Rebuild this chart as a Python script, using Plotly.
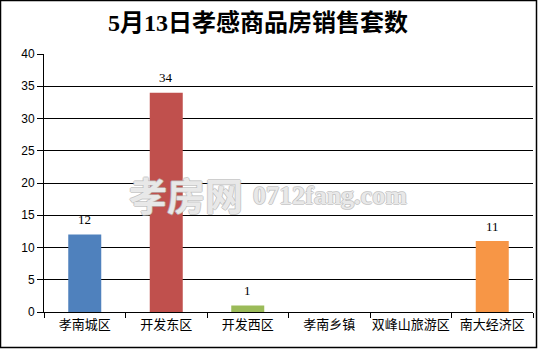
import plotly.graph_objects as go

categories = ["孝南城区", "开发东区", "开发西区", "孝南乡镇", "双峰山旅游区", "南大经济区"]
values = [12, 34, 1, 0, 0, 11]
bar_colors = ["#4F81BD", "#C0504D", "#9BBB59", "#8064A2", "#4BACC6", "#F79646"]
y_ticks = [0, 5, 10, 15, 20, 25, 30, 35, 40]
title_text = "5月13日孝感商品房销售套数"
watermark_cn = "孝房网"
watermark_en = "0712fang.com"

fig = go.Figure()
fig.add_trace(go.Bar(
    x=categories, y=values,
    marker=dict(color=bar_colors, line=dict(width=0)),
    width=0.405,
    showlegend=False,
    hoverinfo="skip",
))

annotations = []
for c, v in zip(categories, values):
    if v > 0:
        annotations.append(dict(
            x=c, y=v, xref="x", yref="y", text=str(v), showarrow=False,
            yshift=15, font=dict(family="Liberation Serif, Noto Sans CJK SC", size=13, color="#000"),
        ))

shadow = "1px 0 0 #b8b8b8, -1px 0 0 #b8b8b8, 0 1px 0 #b8b8b8, 0 -1px 0 #b8b8b8"
annotations.append(dict(
    x=186, y=350 - 193, xref="paper", yref="paper", text=watermark_cn, showarrow=False,
    font=dict(family="Noto Sans CJK SC", size=38, color="rgba(255,255,255,0.7)", weight="bold", shadow=shadow),
    xanchor="center", yanchor="middle",
))
annotations.append(dict(
    x=330, y=350 - 195, xref="paper", yref="paper", text=watermark_en, showarrow=False,
    font=dict(family="Liberation Serif", size=26, color="rgba(255,255,255,0.7)", weight="bold", shadow=shadow),
    xanchor="center", yanchor="middle",
))
annotations.append(dict(
    x=258, y=350 - 22, xref="paper", yref="paper", text=title_text, showarrow=False,
    font=dict(family="Liberation Serif, Noto Sans CJK SC", size=24, color="#000", weight="bold"),
    xanchor="center", yanchor="middle",
))

# convert pixel-based paper positions
W, H = 538, 350
ml, mr, mt, mb = 44, 5, 54, 38
pw, ph = W - ml - mr, H - mt - mb
for a in annotations[-3:]:
    a["x"] = (a["x"] - ml) / pw
    a["y"] = (a["y"] - mb) / ph

fig.update_layout(
    width=W, height=H,
    margin=dict(l=ml, r=mr, t=mt, b=mb, autoexpand=False),
    paper_bgcolor="white", plot_bgcolor="white",
    bargap=0.595,
    annotations=annotations,
    shapes=[dict(type="rect", xref="paper", yref="paper",
                 x0=(0.5 - ml) / pw, x1=(536.5 - ml) / pw,
                 y0=(H - 347.5 - mb) / ph, y1=(H - 0.5 - mb) / ph,
                 line=dict(color="#000", width=1.5), fillcolor="rgba(0,0,0,0)", layer="above")],
)
fig.update_xaxes(
    showline=True, linecolor="#000", linewidth=1,
    ticks="outside", tickson="boundaries", ticklen=5, tickcolor="#000",
    tickfont=dict(family="Noto Sans CJK SC", size=13, color="#000"),
    tickangle=0, automargin=False,
    showgrid=False, fixedrange=True,
)
fig.update_yaxes(
    range=[0, 40], tickvals=y_ticks,
    showline=True, linecolor="#000", linewidth=1,
    ticks="outside", ticklen=6, tickcolor="#000",
    showgrid=True, gridcolor="#000", gridwidth=1,
    zeroline=False, automargin=False,
    tickfont=dict(family="Liberation Sans", size=12, color="#000"),
    fixedrange=True,
)

fig.write_html("out.html", config={"displayModeBar": False})
